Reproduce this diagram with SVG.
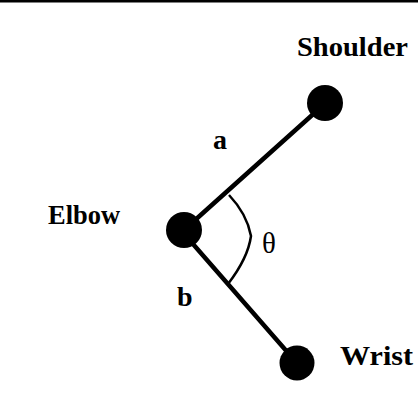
<svg xmlns="http://www.w3.org/2000/svg" width="418" height="411" viewBox="0 0 418 411">
  <style>
    .joint { fill: #000; }
    .limb { stroke: #000; stroke-width: 4.5; stroke-linecap: round; fill: none; }
    .angle { stroke: #000; stroke-width: 2.5; fill: none; }
    .label { font-family: "Liberation Serif", "Times New Roman", serif; font-weight: bold; font-size: 28px; fill: #000; }
    .sym { font-family: "Liberation Serif", "Times New Roman", serif; font-size: 29px; fill: #000; }
  </style>
  <rect x="0" y="0" width="418" height="411" fill="#fff"/>
  <rect x="0" y="0" width="418" height="2.5" fill="#000"/>

  <!-- segments a and b plus the elbow angle -->
  <g id="connectors">
    <line class="limb" x1="184" y1="230" x2="320" y2="108"/>
    <line class="limb" x1="186" y1="236" x2="296" y2="362"/>
    <path class="angle" d="M229,195 Q247,214 251,236 Q248,258 228,284"/>
    <text class="label" x="213" y="149">a</text>
    <text class="label" x="177" y="306">b</text>
    <text class="sym" x="262" y="253">θ</text>
  </g>

  <g id="shoulder">
    <circle class="joint" cx="325" cy="103" r="18"/>
    <text class="label" x="297" y="56" textLength="111" lengthAdjust="spacingAndGlyphs">Shoulder</text>
  </g>
  <g id="elbow">
    <circle class="joint" cx="184" cy="230" r="18"/>
    <text class="label" x="48" y="224" textLength="72" lengthAdjust="spacingAndGlyphs">Elbow</text>
  </g>
  <g id="wrist">
    <circle class="joint" cx="297" cy="363" r="17.5"/>
    <text class="label" x="340" y="365" textLength="73" lengthAdjust="spacingAndGlyphs">Wrist</text>
  </g>
</svg>
